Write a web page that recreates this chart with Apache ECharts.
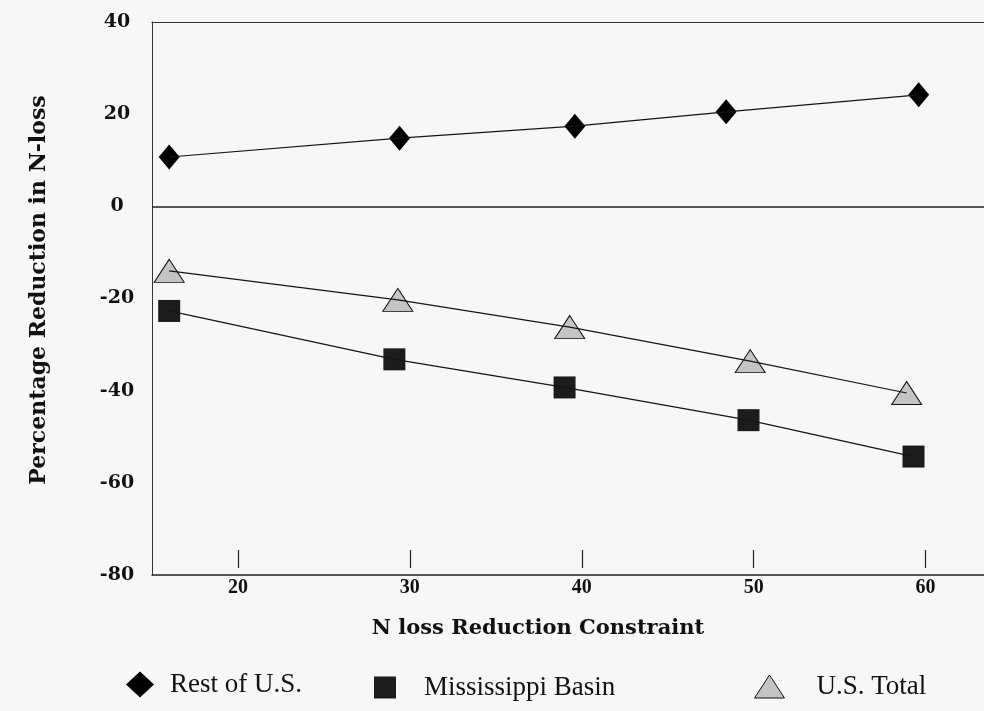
<!DOCTYPE html>
<html><head><meta charset="utf-8">
<script src="https://cdn.jsdelivr.net/npm/echarts@6/dist/echarts.min.js"></script>
<style>html,body{margin:0;padding:0;background:#f7f7f7}#c{width:984px;height:711px}</style>
</head><body><div id="c"></div>
<script>
const seriesNames = ['Rest of U.S.', 'Mississippi Basin', 'U.S. Total'];
const restX = [16, 29.4, 39.6, 48.4, 59.6];
const restY = [10.7, 14.8, 17.4, 20.5, 24.2];
const missX = [16, 29.1, 39.0, 49.7, 59.3];
const missY = [-22.7, -33.2, -39.3, -46.4, -54.3];
const totalX = [16, 29.3, 39.3, 49.8, 58.9];
const totalY = [-14.0, -20.3, -26.2, -33.6, -40.5];
const xTicks = [20, 30, 40, 50, 60];
const xTitle = 'N loss Reduction Constraint';
const yTitle = 'Percentage Reduction in N-loss';

const pairs = (xs, ys) => xs.map((x, i) => [x, ys[i]]);
const XMIN = 15, XMAX = 63.4;
const serif = 'Liberation Serif';
const bold = 'DejaVu Serif';

const chart = echarts.init(document.getElementById('c'), null, {renderer: 'canvas'});
const lineStyle = {color: '#151515', width: 1.2};
const markerDefs = [
  {name: seriesNames[0], data: pairs(restX, restY), symbol: 'diamond', size: [21, 25], itemStyle: {color: '#000', opacity: 1}},
  {name: seriesNames[1], data: pairs(missX, missY), symbol: 'rect', size: [22, 22], itemStyle: {color: '#1c1c1c', opacity: 1}},
  {name: seriesNames[2], data: pairs(totalX, totalY), symbol: 'triangle', size: [30, 23], itemStyle: {color: '#c4c4c4', borderColor: '#111', borderWidth: 1, opacity: 1}}
];
const series = [];
markerDefs.forEach((d, i) => {
  series.push({
    type: 'scatter', name: d.name, data: d.data, symbol: d.symbol, symbolSize: d.size,
    itemStyle: d.itemStyle, z: 2, xAxisIndex: 0, yAxisIndex: 0,
    emphasis: {disabled: true},
    markLine: i === 0 ? {silent: true, symbol: ['none', 'none'], label: {show: false},
      lineStyle: {color: '#222', width: 1.5, type: 'solid'}, data: [{yAxis: 0}]} : undefined
  });
  series.push({
    type: 'line', id: 'line' + i, data: d.data, symbol: 'none', lineStyle: lineStyle, z: 3,
    xAxisIndex: 0, yAxisIndex: 0, silent: true
  });
});
const legendCfg = (name, icon, left, top, w, h, pad, itemStyle) => ({
  left: left, top: top, itemWidth: w, itemHeight: h, selectedMode: false, padding: 0,
  data: [{name: name, icon: icon, itemStyle: itemStyle}],
  textStyle: {fontFamily: serif, fontSize: 27, color: '#111', padding: [6, 0, 0, pad]}
});
chart.setOption({
  backgroundColor: '#f7f7f7',
  animation: false,
  grid: {left: 152, right: 0, top: 22, bottom: 136},
  legend: [
    legendCfg(seriesNames[0], 'diamond', 126, 671, 28, 26, 11, {color: '#000', opacity: 1}),
    legendCfg(seriesNames[1], 'rect', 374, 674, 22, 22, 23, {color: '#1c1c1c', opacity: 1}),
    legendCfg(seriesNames[2], 'triangle', 754, 673, 30, 23, 27, {color: '#c4c4c4', borderColor: '#111', borderWidth: 1, opacity: 1})
  ],
  xAxis: [
    {type: 'value', min: XMIN, max: XMAX, position: 'bottom',
      axisLine: {show: true, onZero: false, lineStyle: {color: '#222', width: 1.5}},
      axisTick: {show: false}, splitLine: {show: false},
      axisLabel: {customValues: xTicks, fontFamily: serif, fontWeight: 'bold', fontSize: 20, color: '#111', margin: 3}},
    {type: 'value', min: XMIN, max: XMAX, position: 'top',
      axisLine: {show: true, onZero: false, lineStyle: {color: '#333', width: 1.2}},
      axisTick: {show: false}, axisLabel: {show: false}, splitLine: {show: false}},
    {type: 'value', min: XMIN, max: XMAX, position: 'bottom', offset: -7,
      axisLine: {show: false, onZero: false}, splitLine: {show: false}, axisLabel: {show: false},
      axisTick: {show: true, customValues: xTicks, inside: true, length: 18, lineStyle: {color: '#222', width: 1.2}}}
  ],
  yAxis: [{type: 'value', min: -80, max: 40, interval: 20,
    axisLine: {show: true, onZero: false, lineStyle: {color: '#333', width: 1}},
    axisTick: {show: false}, splitLine: {show: false},
    axisLabel: {align: 'center', margin: 35, fontFamily: bold, fontWeight: 'bold', fontSize: 19, color: '#111'}}],
  graphic: [
    {type: 'text', x: 538, y: 629, style: {text: xTitle, fontFamily: bold, fontWeight: 'bold', fontSize: 21, fill: '#111', align: 'center', verticalAlign: 'middle'}},
    {type: 'text', x: 39, y: 290, rotation: Math.PI / 2, style: {text: yTitle, fontFamily: bold, fontWeight: 'bold', fontSize: 22, fill: '#111', align: 'center', verticalAlign: 'middle'}}
  ],
  series: series
});
</script></body></html>
